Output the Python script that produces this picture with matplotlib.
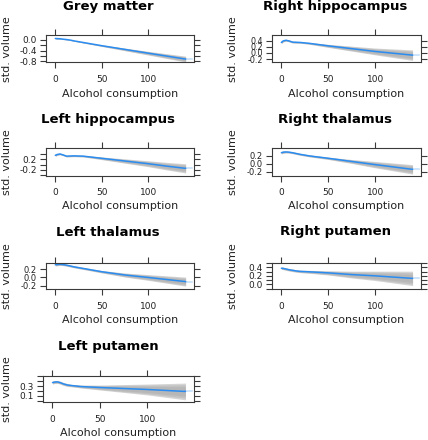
import numpy as np
import matplotlib
matplotlib.use("Agg")
import matplotlib.pyplot as plt

W, H = 428, 440

titles = ["Grey matter", "Right hippocampus", "Left hippocampus", "Right thalamus",
          "Left thalamus", "Right putamen", "Left putamen"]

x_vals = [0, 2, 5, 8, 12, 16, 20, 30, 50, 75, 100, 120, 140]

fit_grey = [0.05, 0.045, 0.04, 0.025, 0.01, -0.01, -0.04, -0.10, -0.22, -0.36, -0.50, -0.61, -0.72]
hw_grey = [0.02, 0.02, 0.015, 0.015, 0.015, 0.015, 0.015, 0.02, 0.03, 0.05, 0.07, 0.09, 0.11]

fit_rhip = [0.34, 0.39, 0.41, 0.39, 0.35, 0.345, 0.34, 0.31, 0.23, 0.14, 0.05, -0.01, -0.07]
hw_rhip = [0.04, 0.035, 0.03, 0.03, 0.03, 0.03, 0.025, 0.03, 0.05, 0.08, 0.11, 0.14, 0.17]

fit_lhip = [0.34, 0.37, 0.39, 0.36, 0.31, 0.315, 0.32, 0.31, 0.23, 0.13, 0.03, -0.06, -0.14]
hw_lhip = [0.04, 0.035, 0.03, 0.03, 0.03, 0.03, 0.03, 0.03, 0.05, 0.08, 0.11, 0.14, 0.17]

fit_rtha = [0.28, 0.295, 0.30, 0.295, 0.28, 0.26, 0.24, 0.20, 0.14, 0.06, -0.02, -0.08, -0.14]
hw_rtha = [0.03, 0.03, 0.025, 0.025, 0.025, 0.025, 0.025, 0.025, 0.03, 0.05, 0.08, 0.10, 0.12]

fit_ltha = [0.31, 0.315, 0.32, 0.315, 0.30, 0.28, 0.26, 0.22, 0.14, 0.06, 0.00, -0.05, -0.10]
hw_ltha = [0.03, 0.03, 0.025, 0.025, 0.025, 0.025, 0.025, 0.025, 0.03, 0.05, 0.07, 0.09, 0.11]

fit_rput = [0.38, 0.375, 0.36, 0.345, 0.33, 0.315, 0.305, 0.295, 0.27, 0.23, 0.20, 0.17, 0.14]
hw_rput = [0.03, 0.03, 0.03, 0.03, 0.03, 0.03, 0.03, 0.035, 0.05, 0.08, 0.11, 0.14, 0.17]

fit_lput = [0.37, 0.38, 0.385, 0.37, 0.34, 0.32, 0.31, 0.29, 0.27, 0.25, 0.23, 0.21, 0.19]
hw_lput = [0.03, 0.03, 0.03, 0.03, 0.03, 0.03, 0.025, 0.03, 0.05, 0.08, 0.11, 0.14, 0.17]

fits = [fit_grey, fit_rhip, fit_lhip, fit_rtha, fit_ltha, fit_rput, fit_lput]
hws = [hw_grey, hw_rhip, hw_lhip, hw_rtha, hw_ltha, hw_rput, hw_lput]

x_ticks = [0, 50, 100]
y_ticks = [
    [0.0, -0.2, -0.4, -0.6, -0.8],
    [0.4, 0.2, 0.0, -0.2],
    [0.4, 0.2, 0.0, -0.2, -0.4],
    [0.2, 0.0, -0.2],
    [0.2, 0.0, -0.2],
    [0.5, 0.4, 0.3, 0.2, 0.1, 0.0, -0.1],
    [0.5, 0.4, 0.3, 0.2, 0.1, 0.0],
]
y_labels = [
    ["0.0", "", "-0.4", "", "-0.8"],
    ["0.4", "0.2", "0.0", "-0.2"],
    ["", "0.2", "", "-0.2", ""],
    ["0.2", "0.0", "-0.2"],
    ["0.2", "0.0", "-0.2"],
    ["", "0.4", "", "0.2", "", "0.0", ""],
    ["", "", "0.3", "", "0.1", ""],
]
y_lims = [(-0.84, 0.18), (-0.30, 0.58), (-0.41, 0.61), (-0.30, 0.40),
          (-0.28, 0.36), (-0.11, 0.51), (-0.03, 0.51)]
y_lab_size = [6.5, 5.8, 6.5, 6.0, 6.0, 6.5, 6.5]

# layout in pixels: (x0, x1, ytop, ybottom)
boxes = [
    (46, 194, 35, 62.3), (272, 421, 35, 62.3),
    (46, 194, 148, 175.7), (272, 421, 148, 175.7),
    (46, 194, 262.7, 289), (272, 421, 262.7, 289),
    (43, 194, 375.7, 402.3),
]
title_y = [6.5, 6.5, 119, 119, 232, 232, 346]
title_x = [108, 335, 108, 335, 108, 335, 108]
xlab_y = [94.3, 94.3, 206, 206, 320, 320, 433]
ylab_x = [7, 233, 7, 233, 7, 233, 7]

line_col = "#2a8cf0"
edge_col = "#3a3a3a"

fig = plt.figure(figsize=(W / 100, H / 100), dpi=100)

for i in range(7):
    x0, x1, yt, yb = boxes[i]
    ax = fig.add_axes([x0 / W, 1 - yb / H, (x1 - x0) / W, (yb - yt) / H])
    xs = np.array(x_vals, dtype=float)
    f = np.array(fits[i])
    hw = np.array(hws[i])
    # soft-edged band
    for k, a in [(1.0, 0.45), (0.8, 0.35), (0.55, 0.3)]:
        ax.fill_between(xs, f - hw * k, f + hw * k, color="#a0a0a0", alpha=a, lw=0)
    ax.plot(xs, f, color=line_col, lw=1.1, solid_capstyle="round")
    ax.plot([xs[-1], 147], [f[-1], f[-1]], color=line_col, lw=1.1, alpha=0.3)
    ax.set_xlim(-10, 149)
    ax.set_ylim(*y_lims[i])
    ax.set_xticks(x_ticks)
    ax.set_xticklabels([str(v) for v in x_ticks])
    ax.set_yticks(y_ticks[i])
    ax.set_yticklabels(y_labels[i])
    ax.tick_params(axis="both", direction="out", length=4, width=0.8, color=edge_col,
                   labelsize=6.5, labelcolor="#222222",
                   top=True, right=True, labeltop=False, labelright=False)
    ax.tick_params(axis="x", pad=5)
    ax.tick_params(axis="y", pad=2.5, labelsize=y_lab_size[i])
    for sp in ax.spines.values():
        sp.set_color(edge_col)
        sp.set_linewidth(0.8)
    fig.text(title_x[i] / W, 1 - title_y[i] / H, titles[i], ha="center", va="center",
             fontsize=9.5, fontweight="bold", color="black")
    fig.text(((x0 + x1) / 2) / W, 1 - xlab_y[i] / H, "Alcohol consumption",
             ha="center", va="center", fontsize=8, color="#222222")
    fig.text(ylab_x[i] / W, 1 - ((yt + yb) / 2) / H, "std. volume", rotation=90,
             ha="center", va="center", fontsize=8, color="#222222")

fig.savefig("out.png", dpi=100)
